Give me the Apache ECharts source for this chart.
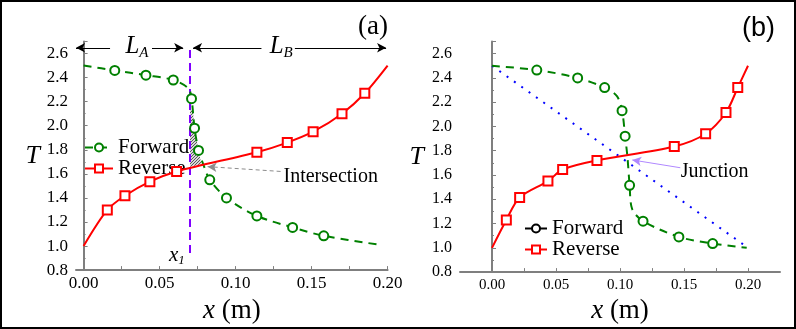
<!DOCTYPE html>
<html>
<head>
<meta charset="utf-8">
<script src="https://cdn.jsdelivr.net/npm/echarts@6/dist/echarts.min.js"></script>
<style>
  html, body { margin: 0; background: #fff; }
  #chart { width: 796px; height: 329px; }
</style>
</head>
<body>
<div id="chart"></div>
<script>
const SERIF = "'Liberation Serif', 'Times New Roman', serif";
const GREEN = '#008000';
const RED = '#ff0000';
const AXIS = '#7f7f7f';

// tick values
const xTickVals = [0, 0.025, 0.05, 0.075, 0.1, 0.125, 0.15, 0.175, 0.2];
const xLabelVals = [0, 0.05, 0.1, 0.15, 0.2];

// panel (a)
const fwdA = [[0, 2.50], [0.0205, 2.46], [0.041, 2.42], [0.059, 2.38], [0.069, 2.31],
  [0.071, 2.225], [0.073, 1.98], [0.0756, 1.795], [0.079, 1.67], [0.083, 1.55],
  [0.094, 1.40], [0.114, 1.25], [0.1375, 1.155], [0.158, 1.085], [0.195, 1.01]];
const fwdAMarked = [0, 1, 1, 1, 0, 1, 1, 1, 0, 1, 1, 1, 1, 1, 0];
const revA = [[0, 1.0], [0.0156, 1.30], [0.0272, 1.418], [0.0436, 1.535], [0.0612, 1.62],
  [0.114, 1.78], [0.134, 1.86], [0.151, 1.95], [0.170, 2.10], [0.185, 2.27], [0.2, 2.5]];
const revAMarked = [0, 1, 1, 1, 1, 1, 1, 1, 1, 1, 0];
const x1Line = [[0.07, 2.63], [0.07, 0.935]];
const hatchX = [0.070, 0.0718, 0.073, 0.0756, 0.0775, 0.070];
const hatchY = [2.13, 2.13, 1.98, 1.795, 1.68, 1.66];

// panel (b)
const fwdB = [[0, 2.5], [0.035, 2.465], [0.0669, 2.40], [0.088, 2.32], [0.0976, 2.25],
  [0.1016, 2.13], [0.104, 1.92], [0.1058, 1.75], [0.1075, 1.515], [0.1095, 1.32],
  [0.118, 1.22], [0.146, 1.09], [0.1724, 1.035], [0.199, 1.0]];
const fwdBMarked = [0, 1, 1, 1, 0, 1, 1, 0, 1, 0, 1, 1, 1, 0];
const revB = [[0, 1.0], [0.0112, 1.23], [0.0216, 1.415], [0.0437, 1.55], [0.0552, 1.645],
  [0.082, 1.72], [0.1424, 1.835], [0.1669, 1.94], [0.1828, 2.115], [0.192, 2.32], [0.2, 2.5]];
const revBMarked = [0, 1, 1, 1, 1, 1, 1, 1, 1, 1, 0];
const straightB = [[0, 2.5], [0.2, 1.0]];

function withMarks(pts, marks) {
  return pts.map((p, i) => marks[i] ? p : { value: p, symbol: 'none' });
}

function hatchPattern() {
  const c = document.createElement('canvas');
  c.width = 3; c.height = 3;
  const ctx = c.getContext('2d');
  ctx.fillStyle = '#d8d8d8';
  ctx.fillRect(0, 0, 3, 3);
  ctx.strokeStyle = '#5a5a5a';
  ctx.lineWidth = 1;
  ctx.beginPath();
  ctx.moveTo(0, 3); ctx.lineTo(3, 0);
  ctx.stroke();
  return c;
}

function xAxisCfg(gi, min, max, fontSize) {
  return {
    type: 'value', gridIndex: gi, min: min, max: max,
    axisLine: { onZero: false, lineStyle: { color: AXIS, width: 2 } },
    axisTick: { inside: true, length: 4, customValues: xTickVals, lineStyle: { color: AXIS } },
    axisLabel: {
      customValues: xLabelVals, formatter: v => v.toFixed(2),
      fontFamily: SERIF, fontSize: fontSize, color: '#000', margin: 5
    },
    splitLine: { show: false },
    name: '{i|x} (m)', nameLocation: 'middle', nameGap: 14,
    nameTextStyle: {
      fontFamily: SERIF, fontSize: 27, color: '#000',
      rich: { i: { fontFamily: SERIF, fontSize: 27, fontStyle: 'italic' } }
    }
  };
}

function yAxisCfg(gi, fontSize) {
  return {
    type: 'value', gridIndex: gi, min: 0.8, max: 2.7, interval: 0.2,
    axisLine: { show: true, lineStyle: { color: AXIS, width: 2 } },
    axisTick: { show: true, inside: true, length: 4, lineStyle: { color: AXIS } },
    minorTick: { show: true, splitNumber: 2, length: 2, lineStyle: { color: AXIS } },
    axisLabel: {
      formatter: v => v.toFixed(1), showMaxLabel: false,
      fontFamily: SERIF, fontSize: fontSize, color: '#000', margin: 8
    },
    splitLine: { show: false },
    name: 'T', nameLocation: 'middle', nameRotate: 0, nameGap: 36,
    nameTextStyle: { fontFamily: SERIF, fontSize: 26, fontStyle: 'italic', color: '#000' }
  };
}

function curve(name, gi, pts, marks, color, dashed, symbol) {
  return {
    name: name, type: 'line', xAxisIndex: gi, yAxisIndex: gi,
    data: withMarks(pts, marks), smooth: 0.3,
    symbol: symbol, symbolSize: 9, showSymbol: true,
    lineStyle: { color: color, width: 2, type: dashed ? [8, 6] : 'solid' },
    itemStyle: { color: color, borderWidth: 1.5 },
    z: 5
  };
}

const arrowHead = { symbol: 'arrow', symbolSize: [7, 9] };
const noHead = { symbol: 'none' };
const textMark = (coord, text, pos, extra) => ({
  coord: coord, symbol: 'rect', symbolSize: 1, itemStyle: { color: 'rgba(0,0,0,0)' },
  label: Object.assign({ show: true, formatter: text, position: pos, distance: 0,
    color: '#000', fontFamily: SERIF, fontSize: 20 }, extra || {})
});

const subRich = {
  l: { fontFamily: SERIF, fontSize: 25, fontStyle: 'italic', color: '#000' },
  s: { fontFamily: SERIF, fontSize: 15, fontStyle: 'italic', color: '#000', verticalAlign: 'bottom', padding: [12, 0, 0, 0] },
  x: { fontFamily: SERIF, fontSize: 21, fontStyle: 'italic', color: '#000' },
  t: { fontFamily: SERIF, fontSize: 13, fontStyle: 'italic', color: '#000', verticalAlign: 'bottom', padding: [10, 0, 0, 0] }
};

const option = {
  animation: false,
  textStyle: { fontFamily: SERIF },
  grid: [
    { left: 76, top: 41.5, width: 311.6, height: 238.5 },
    { left: 460, top: 41.5, width: 320, height: 238.5 }
  ],
  xAxis: [xAxisCfg(0, -0.005, 0.2, 17), xAxisCfg(1, -0.025, 0.225, 15)],
  yAxis: [yAxisCfg(0, 17), yAxisCfg(1, 16)],
  legend: [
    {
      data: ['Forward', 'Reverse'], orient: 'vertical', left: 84, top: 137, padding: 0,
      itemWidth: 28, itemHeight: 10, itemGap: 0, selectedMode: false,
      textStyle: { fontFamily: SERIF, fontSize: 21, lineHeight: 20, color: '#000' }
    },
    {
      data: [{ name: 'Forward', itemStyle: { color: '#000', borderColor: '#000' }, lineStyle: { color: '#000', type: 'solid' } }, 'Reverse'],
      orient: 'vertical', left: 524, top: 218, padding: 0,
      itemWidth: 22, itemHeight: 10, itemGap: 0, selectedMode: false,
      textStyle: { fontFamily: SERIF, fontSize: 21, lineHeight: 18, color: '#000' }
    }
  ],
  graphic: [
    { type: 'rect', shape: { x: 1, y: 1, width: 794, height: 327 }, style: { fill: 'none', stroke: '#000', lineWidth: 2 }, silent: true },
    { type: 'text', left: 358, top: 13, style: { text: '(a)', font: '27px ' + SERIF, fill: '#000' } },
    { type: 'text', left: 742, top: 15, style: { text: '(b)', font: '27px "Liberation Sans", Arial, sans-serif', fill: '#000' } }
  ],
  series: [
    {
      type: 'custom', xAxisIndex: 0, yAxisIndex: 0, silent: true, z: 1,
      data: [[hatchX[0], hatchY[0]]],
      renderItem: (params, api) => ({
        type: 'polygon',
        shape: { points: hatchX.map((x, i) => api.coord([x, hatchY[i]])) },
        style: { fill: { image: hatchPattern(), repeat: 'repeat' }, stroke: 'none' }
      })
    },
    {
      name: 'x1', type: 'line', xAxisIndex: 0, yAxisIndex: 0, data: x1Line,
      symbol: 'none', silent: true, z: 4,
      lineStyle: { color: '#8000ff', width: 2, type: [8, 5] },
      markLine: {
        silent: true, animation: false, label: { show: false },
        lineStyle: { color: '#000', width: 1, type: 'solid' },
        data: [
          [Object.assign({ coord: [0.0174, 2.648] }, noHead), Object.assign({ coord: [-0.005, 2.648] }, arrowHead)],
          [Object.assign({ coord: [0.045, 2.648] }, noHead), Object.assign({ coord: [0.0655, 2.648] }, arrowHead)],
          [Object.assign({ coord: [0.117, 2.648] }, noHead), Object.assign({ coord: [0.072, 2.648] }, arrowHead)],
          [Object.assign({ coord: [0.139, 2.648] }, noHead), Object.assign({ coord: [0.199, 2.648] }, arrowHead)],
          [Object.assign({ coord: [0.1296, 1.62], lineStyle: { color: '#8c8c8c', type: [4, 3], width: 1 } }, noHead),
           Object.assign({ coord: [0.0816, 1.66], itemStyle: { color: '#000' } }, arrowHead)]
        ]
      },
      markPoint: {
        silent: true, animation: false,
        data: [
          textMark([0.1312, 1.572], 'Intersection', 'right'),
          textMark([0.0351, 2.656], '{l|L}{s|A}', 'inside', { rich: subRich }),
          textMark([0.130, 2.656], '{l|L}{s|B}', 'inside', { rich: subRich }),
          textMark([0.0614, 0.919], '{x|x}{t|1}', 'inside', { rich: subRich })
        ]
      }
    },
    curve('Forward', 0, fwdA, fwdAMarked, GREEN, true, 'emptyCircle'),
    curve('Reverse', 0, revA, revAMarked, RED, false, 'emptyRect'),
    {
      name: 'linear', type: 'line', xAxisIndex: 1, yAxisIndex: 1, data: straightB,
      symbol: 'none', silent: true, z: 3,
      lineStyle: { color: '#0000ff', width: 2, type: [2, 7] },
      markLine: {
        silent: true, animation: false, label: { show: false },
        lineStyle: { color: '#b088ff', width: 1, type: 'solid' },
        data: [
          [Object.assign({ coord: [0.1471, 1.66] }, noHead), Object.assign({ coord: [0.1096, 1.724], itemStyle: { color: '#9060ff' } }, arrowHead)]
        ]
      },
      markPoint: {
        silent: true, animation: false,
        data: [textMark([0.1471, 1.628], 'Junction', 'right')]
      }
    },
    curve('Forward', 1, fwdB, fwdBMarked, GREEN, true, 'emptyCircle'),
    curve('Reverse', 1, revB, revBMarked, RED, false, 'emptyRect')
  ]
};

const chart = echarts.init(document.getElementById('chart'));
chart.setOption(option);
</script>
</body>
</html>
